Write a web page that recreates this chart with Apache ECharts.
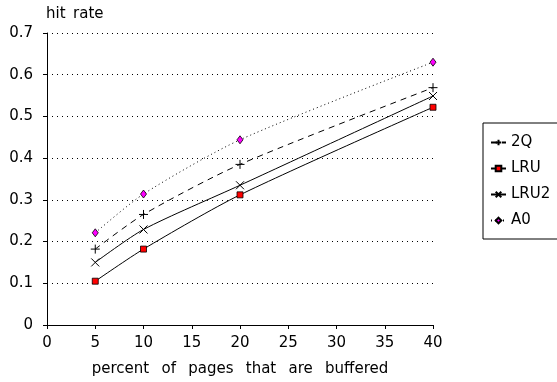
<!DOCTYPE html>
<html><head><meta charset="utf-8">
<script src="https://cdn.jsdelivr.net/npm/echarts@6/dist/echarts.min.js"></script>
<style>html,body{margin:0;padding:0;background:#fff}#c{width:557px;height:382px}</style>
</head><body><div id="c"></div>
<script>
const xValues = [5, 10, 20, 40];
const q2 = [0.182, 0.265, 0.385, 0.569];
const lru = [0.105, 0.182, 0.312, 0.522];
const lru2 = [0.150, 0.229, 0.335, 0.549];
const a0 = [0.221, 0.314, 0.444, 0.630];
const seriesNames = ['2Q', 'LRU', 'LRU2', 'A0'];

const pair = arr => xValues.map((x, i) => [x, arr[i]]);
const WIDE = 'DejaVu Sans, sans-serif';
const plusPath = 'path://M0,5L10,5M5,0L5,10';
const crossPath = 'path://M0,0L10,10M10,0L0,10';

const chart = echarts.init(document.getElementById('c'), null, {renderer: 'canvas'});
chart.setOption({
  animation: false,
  backgroundColor: '#fff',
  grid: {left: 47, right: 124, top: 33, bottom: 57},
  xAxis: {
    type: 'value', min: 0, max: 40, interval: 5,
    name: 'percent \u2002of \u2002pages \u2002that \u2002are \u2002buffered',
    nameLocation: 'middle', nameGap: 37,
    nameTextStyle: {color: '#000', fontSize: 15, fontFamily: WIDE},
    axisLine: {lineStyle: {color: '#000', width: 1}},
    axisTick: {show: true, length: 4, lineStyle: {color: '#000'}},
    axisLabel: {color: '#000', fontSize: 15, fontFamily: WIDE, margin: 11},
    splitLine: {show: false}
  },
  yAxis: {
    type: 'value', min: 0, max: 0.7, interval: 0.1,
    name: 'hit\u2002rate', nameLocation: 'end', nameGap: 11,
    nameTextStyle: {color: '#000', fontSize: 15, fontFamily: WIDE, align: 'left', padding: [0, 0, 0, -1]},
    axisLine: {show: true, lineStyle: {color: '#000', width: 1}},
    axisTick: {show: true, length: 4, lineStyle: {color: '#000'}},
    axisLabel: {color: '#000', fontSize: 15, fontFamily: WIDE, margin: 14,
      formatter: v => (Math.round(v * 10) / 10).toString()},
    splitLine: {show: true, lineStyle: {color: '#000', type: [1, 4], width: 1}}
  },
  legend: {
    orient: 'vertical', left: 483, top: 123,
    padding: [12, 40, 11, 7],
    itemGap: 11, itemWidth: 15, itemHeight: 7,
    borderColor: '#000', borderWidth: 1,
    textStyle: {color: '#000', fontSize: 15, fontFamily: WIDE, lineHeight: 15},
    data: seriesNames
  },
  series: [
    {name: '2Q', type: 'line', data: pair(q2), smooth: 0.25,
      symbol: plusPath, symbolSize: 9,
      lineStyle: {color: '#000', width: 1, type: [6, 5]},
      itemStyle: {color: 'none', borderColor: '#000', borderWidth: 1}},
    {name: 'LRU', type: 'line', data: pair(lru), smooth: 0.25,
      symbol: 'rect', symbolSize: 6,
      lineStyle: {color: '#000', width: 1},
      itemStyle: {color: '#ff0000', borderColor: '#000', borderWidth: 0.8}},
    {name: 'LRU2', type: 'line', data: pair(lru2), smooth: 0.25,
      symbol: crossPath, symbolSize: 8,
      lineStyle: {color: '#000', width: 1},
      itemStyle: {color: 'none', borderColor: '#000', borderWidth: 1}},
    {name: 'A0', type: 'line', data: pair(a0), smooth: 0.25,
      symbol: 'diamond', symbolSize: [6, 8],
      lineStyle: {color: '#000', width: 1, type: [1, 3]},
      itemStyle: {color: '#ff00ff', borderColor: '#000', borderWidth: 0.8}}
  ]
});
</script></body></html>
